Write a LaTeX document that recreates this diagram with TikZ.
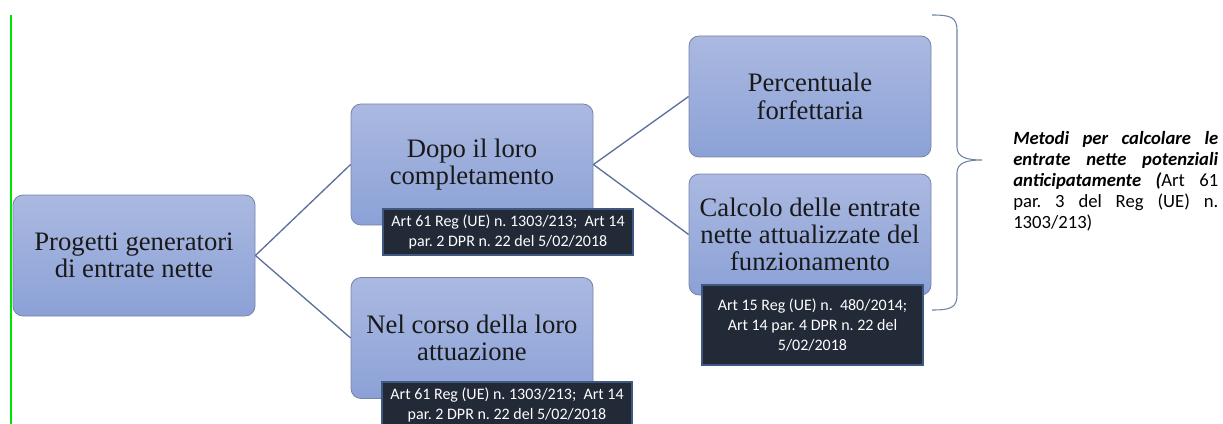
\documentclass[tikz,border=0pt]{standalone}
\usepackage{fontspec}
\setmainfont{Liberation Serif}
\newfontfamily\calib{Carlito}
\usepackage{xcolor}
\usepackage{tikz}
\usetikzlibrary{positioning, arrows.meta}
\frenchspacing

\definecolor{boxtop}{RGB}{171,185,225}
\definecolor{boxbot}{RGB}{139,161,214}
\definecolor{boxline}{RGB}{118,132,168}
\definecolor{linkcol}{RGB}{92,112,155}
\definecolor{notefill}{RGB}{34,41,55}
\definecolor{noteline}{RGB}{62,88,130}
\definecolor{bracecol}{RGB}{110,130,170}

\tikzset{
  phase/.style={draw=boxline, line width=0.6pt, rounded corners=7.5pt,
    top color=boxtop, bottom color=boxbot, align=center, inner sep=0pt,
    minimum width=181.5pt, minimum height=90.75pt,
    font=\fontsize{20}{20.5}\selectfont, text=black!90},
  note/.style={draw=noteline, line width=0.8pt, fill=notefill, text=white,
    align=center, inner sep=0pt, font=\calib\fontsize{12}{14.8}\selectfont},
  link/.style={draw=linkcol, line width=1pt}
}

\begin{document}
\begin{tikzpicture}[x=0.75pt, y=-0.75pt]
		\useasboundingbox (0,0) rectangle (1223,424);
		% green margin line
		\draw[green!90!black, line width=1.2pt] (11,15) -- (11,424);

		% Tree of the projects
		\node (p0) at (134,255.5) [phase] {Progetti generatori\\di entrate nette};
		\node (p1) at (472,164.5) [phase] {Dopo il loro\\completamento};
		\node (p2) at (472,338) [phase] {Nel corso della loro\\attuazione};
		\node (m1) at (810,96.5) [phase] {Percentuale\\forfettaria};
		\node (m2) at (810,234.5) [phase] {Calcolo delle entrate\\nette attualizzate del\\funzionamento};

		\draw[link] (p0.east) -- (p1.west); \draw[link] (p0.east) -- (p2.west);
		\draw[link] (p1.east) -- (m1.west); \draw[link] (p1.east) -- (m2.west);

		% References under the boxes
		\node (r1) at (508,232) [note, minimum width=187.5pt, minimum height=34.5pt]
			{Art 61 Reg (UE) n. 1303/213;\ \ Art 14\\par. 2 DPR n. 22 del 5/02/2018};
		\node (r2) at (507,405) [note, minimum width=187.5pt, minimum height=34.5pt]
			{Art 61 Reg (UE) n. 1303/213;\ \ Art 14\\par. 2 DPR n. 22 del 5/02/2018};
		\node (r3) at (812.5,325) [note, minimum width=165.75pt, minimum height=60pt]
			{Art 15 Reg (UE) n.\ \ 480/2014;\\Art 14 par. 4 DPR n. 22 del\\5/02/2018};

		% Brace and methods
		\draw[bracecol, line width=0.8pt] (932,15) .. controls (950,15) and (957,17) .. (957,30)
			-- (957,147) .. controls (957,157) and (966,160) .. (982,160)
			.. controls (966,160) and (957,163) .. (957,173)
			-- (957,295) .. controls (957,308) and (950,310) .. (932,310);
		\node (note) at (1013,131) [anchor=north west, inner sep=0pt, text width=153.75pt,
			align=justify, font=\calib\fontsize{14}{15.75}\selectfont]
			{\textbf{\textit{Metodi per calcolare le\linebreak entrate nette potenziali\linebreak anticipatamente (}}Art 61\linebreak par. 3 del Reg (UE) n.\linebreak 1303/213)};
	\end{tikzpicture}
\end{document}
